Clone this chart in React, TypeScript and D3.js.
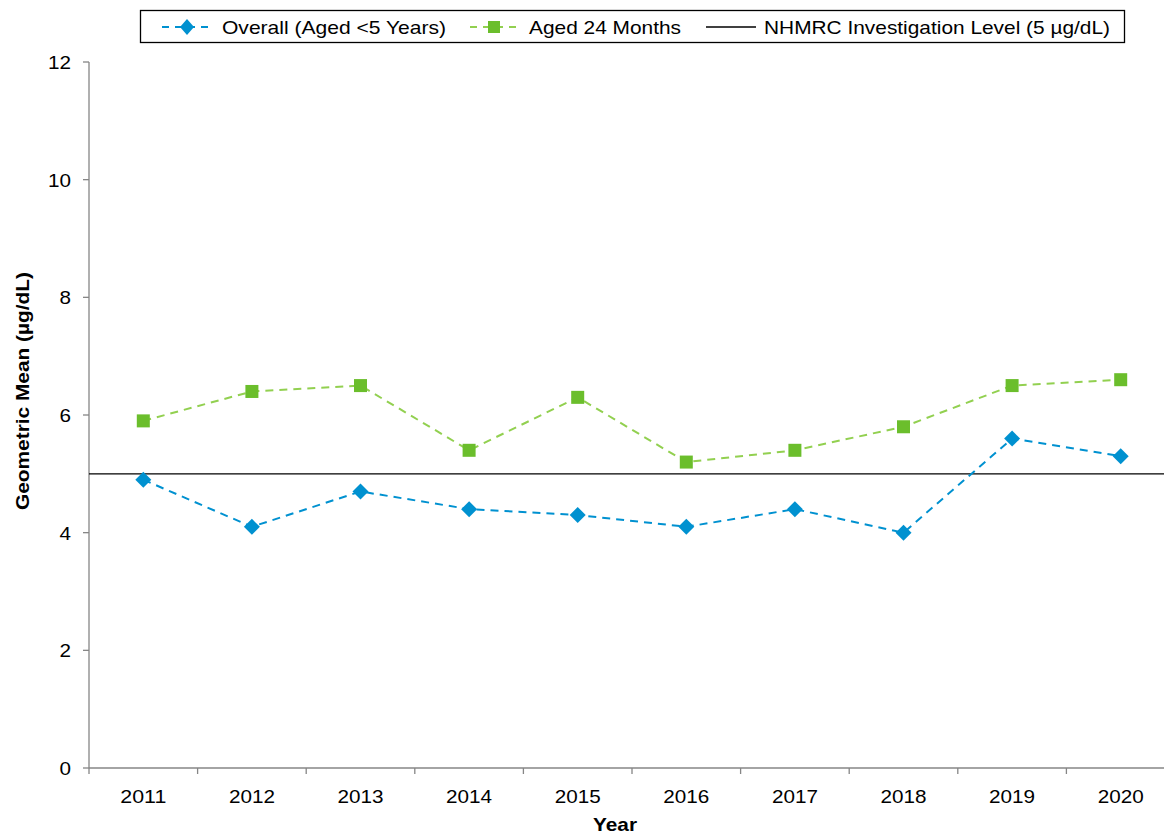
import React from "react";
import * as d3 from "d3";

const years = ["2011", "2012", "2013", "2014", "2015", "2016", "2017", "2018", "2019", "2020"];
const overall = [4.9, 4.1, 4.7, 4.4, 4.3, 4.1, 4.4, 4.0, 5.6, 5.3];
const aged24 = [5.9, 6.4, 6.5, 5.4, 6.3, 5.2, 5.4, 5.8, 6.5, 6.6];
const yTicks = [0, 2, 4, 6, 8, 10, 12];
const investigationLevel = 5;

const WIDTH = 1164;
const HEIGHT = 834;
const LEFT = 89;
const TOP = 62;
const BOTTOM = 768;
const RIGHT = 1175;

const BLUE = "#0091D0";
const GREEN_LINE = "#92D050";
const GREEN_MARK = "#6BBE2C";
const AXIS = "#868686";
const FONT = "'Liberation Sans', Arial, sans-serif";

export default function App() {
  const x = d3.scaleBand().domain(years).range([LEFT, RIGHT]);
  const y = d3.scaleLinear().domain([0, 12]).range([BOTTOM, TOP]);
  const cx = (d: string) => (x(d) ?? 0) + x.bandwidth() / 2;

  const line = d3
    .line<number>()
    .x((_, i) => cx(years[i]))
    .y((d) => y(d));

  // text in the original is a bit wider than Arial at the same height
  const stretch = (w: number) => ({ textLength: w, lengthAdjust: "spacingAndGlyphs" as const });

  return (
    <svg
      width={WIDTH}
      height={HEIGHT}
      style={{ position: "absolute", left: 0, top: 0, background: "#fff" }}
      fontFamily={FONT}
    >
      {/* axes */}
      <line x1={LEFT} x2={LEFT} y1={TOP} y2={BOTTOM} stroke={AXIS} strokeWidth={1.3} />
      <line x1={LEFT} x2={WIDTH} y1={BOTTOM} y2={BOTTOM} stroke={AXIS} strokeWidth={1.3} />
      {yTicks.map((t) => (
        <g key={t}>
          <line x1={LEFT - 6} x2={LEFT} y1={y(t)} y2={y(t)} stroke={AXIS} strokeWidth={1.3} />
          <text
            x={LEFT - 18}
            y={y(t) + 7}
            textAnchor="end"
            fontSize={19}
            fill="#000"
            {...stretch(t >= 10 ? 23 : 11.5)}
          >
            {t}
          </text>
        </g>
      ))}
      {years.map((yr) => (
        <g key={yr}>
          <line x1={x(yr)!} x2={x(yr)!} y1={BOTTOM} y2={BOTTOM + 6} stroke={AXIS} strokeWidth={1.3} />
          <text x={cx(yr) - 23} y={BOTTOM + 35} fontSize={19} fill="#000" {...stretch(46)}>
            {yr}
          </text>
        </g>
      ))}
      <text x={593} y={831} fontSize={19} fontWeight="bold" {...stretch(44)}>
        Year
      </text>
      <text
        transform="translate(29, 510) rotate(-90)"
        fontSize={18}
        fontWeight="bold"
        {...stretch(238)}
      >
        Geometric Mean (µg/dL)
      </text>

      {/* investigation level */}
      <line
        x1={LEFT}
        x2={WIDTH}
        y1={y(investigationLevel)}
        y2={y(investigationLevel)}
        stroke="#000"
        strokeWidth={1.4}
      />

      {/* series */}
      <path d={line(aged24) ?? ""} fill="none" stroke={GREEN_LINE} strokeWidth={2} strokeDasharray="8 6" />
      <path d={line(overall) ?? ""} fill="none" stroke={BLUE} strokeWidth={2} strokeDasharray="8 6" />
      {aged24.map((v, i) => (
        <rect key={i} x={cx(years[i]) - 6.5} y={y(v) - 6.5} width={13} height={13} fill={GREEN_MARK} />
      ))}
      {overall.map((v, i) => (
        <path key={i} d={`M${cx(years[i])},${y(v) - 8}l8,8l-8,8l-8,-8z`} fill={BLUE} />
      ))}

      {/* legend */}
      <rect x={140.5} y={10.5} width={984} height={32} fill="#fff" stroke="#000" strokeWidth={1.3} />
      <g transform="translate(0, 27)">
        <line x1={162} x2={212} y1={0} y2={0} stroke={BLUE} strokeWidth={2} strokeDasharray="7 6" />
        <path d="M187,-8l7,8l-7,8l-7,-8z" fill={BLUE} />
        <text x={222} y={7} fontSize={19} {...stretch(224)}>
          Overall (Aged &lt;5 Years)
        </text>
        <line x1={470} x2={520} y1={0} y2={0} stroke={GREEN_LINE} strokeWidth={2} strokeDasharray="7 6" />
        <rect x={488} y={-6} width={12} height={12} fill={GREEN_MARK} />
        <text x={529} y={7} fontSize={19} {...stretch(152)}>
          Aged 24 Months
        </text>
        <line x1={706} x2={756} y1={0} y2={0} stroke="#000" strokeWidth={1.3} />
        <text x={764} y={7} fontSize={19} {...stretch(346)}>
          NHMRC Investigation Level (5 µg/dL)
        </text>
      </g>
    </svg>
  );
}
